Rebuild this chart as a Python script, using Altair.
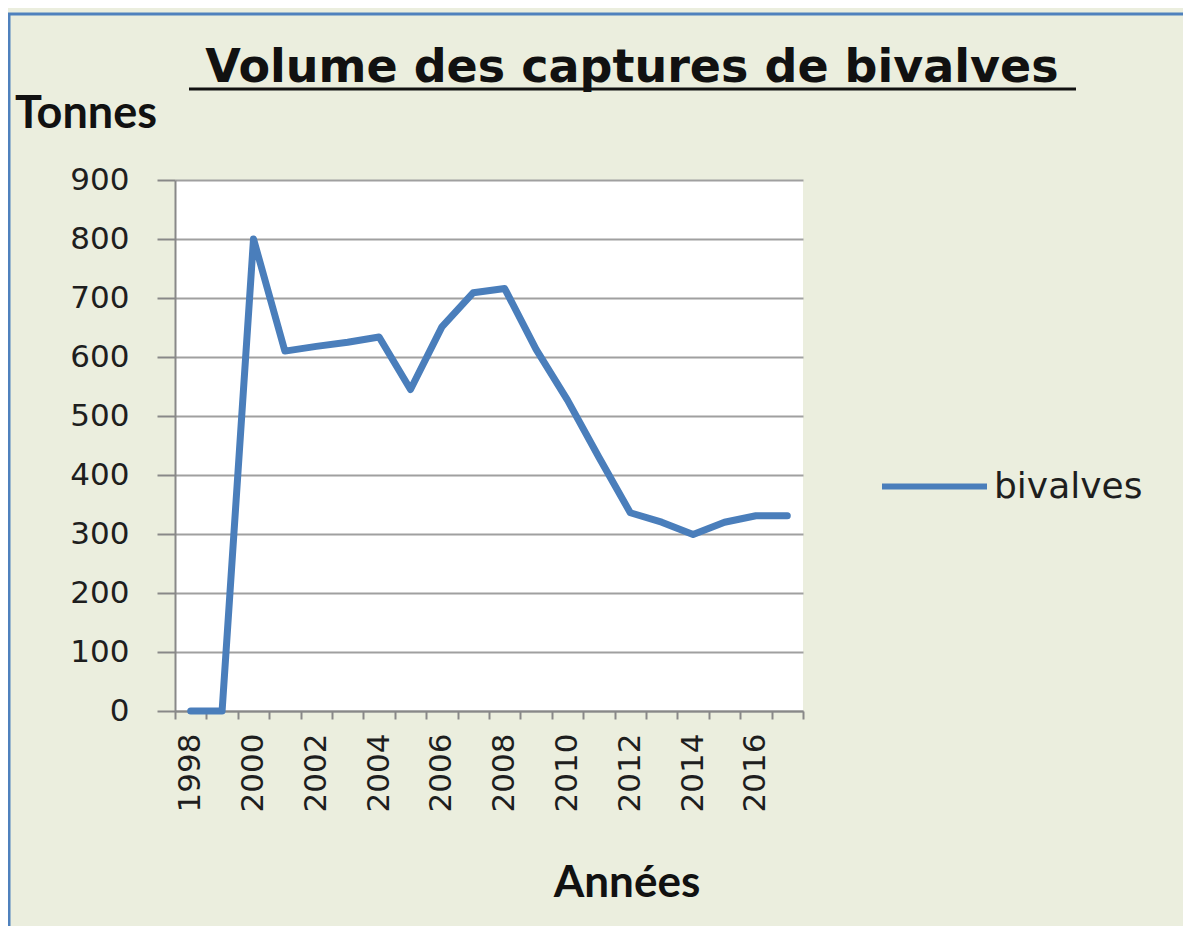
import altair as alt
import pandas as pd

# ---- data ----
years = list(range(1998, 2018))
tonnes = [0, 0, 800, 610, 618, 625, 634, 545, 651, 709, 716, 613, 527, 430, 336, 320, 299, 320, 331, 331]
series_name = "bivalves"
title_text = "Volume des captures de bivalves"
y_title = "Tonnes"
x_title = "Années"
y_ticks = list(range(0, 1000, 100))

df = pd.DataFrame({"annee": years, "tonnes": tonnes, "serie": [series_name] * len(years)})

W, H = 628, 531
BG = "#EBEEDE"
BLUE = "#4A7EBB"
GRID = "#A0A0A0"
AXIS = "#888888"
LBL = "#1E1E1E"

line = alt.Chart(df).mark_line(strokeWidth=7, strokeCap="round", strokeJoin="round").encode(
    x=alt.X(
        "annee:O",
        bandPosition=0.5,
        scale=alt.Scale(type="band", paddingInner=0, paddingOuter=0),
        axis=alt.Axis(
            title=None,
            labelAngle=270,
            tickBand="extent",
            labelExpr="datum.value % 2 == 0 ? datum.label : ''",
            labelFont="DejaVu Sans",
            labelFontSize=31,
            labelColor=LBL,
            labelPadding=14,
            tickSize=8,
            tickColor=AXIS,
            tickWidth=2,
            domainColor=AXIS,
            domainWidth=2,
            grid=False,
        ),
    ),
    y=alt.Y(
        "tonnes:Q",
        scale=alt.Scale(domain=[0, 900], nice=False),
        axis=alt.Axis(
            title=None,
            values=y_ticks,
            labelFont="DejaVu Sans",
            labelFontSize=31,
            labelColor=LBL,
            labelPadding=28,
            tickSize=18,
            tickColor=AXIS,
            tickWidth=2,
            domainColor=AXIS,
            domainWidth=2,
            gridColor=GRID,
            gridWidth=2,
        ),
    ),
    color=alt.Color(
        "serie:N",
        scale=alt.Scale(domain=[series_name], range=[BLUE]),
        legend=alt.Legend(
            title=None,
            orient="none",
            legendX=704,
            legendY=251,
            symbolType="stroke",
            symbolSize=11025,
            symbolStrokeWidth=6,
            symbolStrokeColor=BLUE,
            labelFont="DejaVu Sans",
            labelFontSize=36,
            labelColor=LBL,
            labelOffset=4,
        ),
    ),
)

title = alt.Chart(pd.DataFrame({"t": [title_text]})).mark_text(
    font="DejaVu Sans", fontSize=46, fontWeight="bold", color="#111111", align="center", baseline="alphabetic"
).encode(text="t:N", x=alt.value(457), y=alt.value(-98))

underline = alt.Chart(pd.DataFrame({"a": [0]})).mark_rule(color="#111111", strokeWidth=3).encode(
    x=alt.value(14), x2=alt.value(901), y=alt.value(-91)
)

ytitle = alt.Chart(pd.DataFrame({"t": [y_title]})).mark_text(
    font="Lato", fontSize=45, fontWeight="bold", color="#111111", align="left", baseline="alphabetic"
).encode(text="t:N", x=alt.value(-160), y=alt.value(-52))

xtitle = alt.Chart(pd.DataFrame({"t": [x_title]})).mark_text(
    font="Lato", fontSize=44, fontWeight="bold", color="#111111", align="center", baseline="alphabetic"
).encode(text="t:N", x=alt.value(452), y=alt.value(717))

border_top = alt.Chart(pd.DataFrame({"a": [0]})).mark_rule(color="#4F81BD", strokeWidth=3).encode(
    x=alt.value(-167), x2=alt.value(1010), y=alt.value(-166)
)
border_left = alt.Chart(pd.DataFrame({"a": [0]})).mark_rule(color="#4F81BD", strokeWidth=3).encode(
    x=alt.value(-166), y=alt.value(-167), y2=alt.value(760)
)

chart = alt.layer(line, title, underline, ytitle, xtitle, border_top, border_left).properties(
    width=W,
    height=H,
    background=BG,
    padding={"left": 167, "top": 172, "right": 380, "bottom": 215},
    autosize=alt.AutoSizeParams(type="none"),
).configure_view(fill="white", stroke=None)

chart.save("out.html", embed_options={"renderer": "svg", "actions": False})
